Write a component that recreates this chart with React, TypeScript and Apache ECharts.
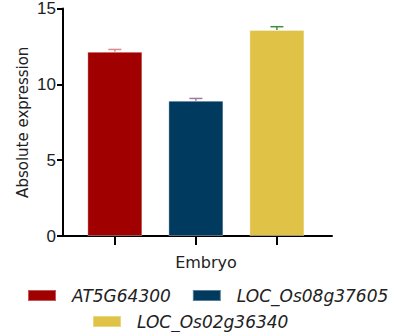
import React, { useEffect, useRef } from "react";
import * as echarts from "echarts";

const seriesNames = ["AT5G64300", "LOC_Os08g37605", "LOC_Os02g36340"];
const positions = [0, 1, 2];
const means = [12.15, 8.92, 13.58];
const errors = [0.15, 0.15, 0.22];
const barColors = ["#a00000", "#003a5e", "#dfc246"];
const errorColors = ["#d98a8c", "#a07aa4", "#3f8f3f"];
const groupLabel = "Embryo";
const yTitle = "Absolute expression";

export default function App() {
  const ref = useRef<HTMLDivElement>(null);
  useEffect(() => {
    if (!ref.current) return;
    const chart = echarts.init(ref.current, undefined, { renderer: "svg" });
    const font = "DejaVu Sans";
    const barSeries = seriesNames.map((name, i) => ({
      name,
      type: "bar",
      data: [[positions[i], means[i]]],
      barWidth: 55,
      barGap: "-100%",
      itemStyle: {
        color: barColors[i],
        borderColor: "rgba(255,255,255,0.35)",
        borderWidth: 1,
      },
      z: 2,
    }));
    const errSeries = {
      type: "custom",
      z: 3,
      silent: true,
      data: positions.map((p, i) => [p, means[i], errors[i], i]),
      renderItem: (params: any, api: any) => {
        const x = api.value(0);
        const m = api.value(1);
        const e = api.value(2);
        const idx = api.value(3);
        const base = api.coord([x, m]);
        const top = api.coord([x, m + e]);
        const color = errorColors[idx];
        const hw = 6.5;
        return {
          type: "group",
          children: [
            {
              type: "line",
              shape: { x1: base[0], y1: base[1], x2: top[0], y2: top[1] },
              style: { stroke: color, lineWidth: 1.5 },
            },
            {
              type: "line",
              shape: { x1: top[0] - hw, y1: top[1], x2: top[0] + hw, y2: top[1] },
              style: { stroke: color, lineWidth: 1.5 },
            },
          ],
        };
      },
    };
    const legendCommon = {
      orient: "horizontal",
      width: 600,
      padding: 0,
      itemWidth: 28,
      itemHeight: 11,
      itemGap: 21,
      icon: "rect",
      textStyle: {
        fontFamily: font,
        fontStyle: "italic",
        fontSize: 17,
        color: "#222",
        padding: [0, 0, 0, 11],
      },
    };
    chart.setOption({
      animation: false,
      grid: { left: 63, right: 63, top: 5, bottom: 96, containLabel: false },
      legend: [
        { ...legendCommon, left: 27, top: 287, data: [seriesNames[0], seriesNames[1]] },
        { ...legendCommon, left: 92, top: 313, data: [seriesNames[2]] },
      ],
      xAxis: {
        type: "value",
        min: -0.64,
        max: 2.68,
        name: groupLabel,
        nameLocation: "middle",
        nameGap: 18,
        nameMoveOverlap: false,
        nameTextStyle: {
          fontFamily: font,
          fontSize: 16,
          color: "#222",
          padding: [0, 0, 0, 17],
        },
        splitLine: { show: false },
        axisLine: { show: true, onZero: false, lineStyle: { color: "#000", width: 2 } },
        axisTick: {
          show: true,
          customValues: positions,
          length: 9,
          lineStyle: { color: "#000", width: 2 },
        },
        axisLabel: { show: false },
      },
      yAxis: {
        type: "value",
        min: 0,
        max: 15,
        interval: 5,
        name: yTitle,
        nameLocation: "middle",
        nameGap: 33,
        nameMoveOverlap: false,
        nameTextStyle: { fontFamily: font, fontSize: 15, color: "#222" },
        splitLine: { show: false },
        axisLine: { show: true, onZero: false, lineStyle: { color: "#000", width: 2 } },
        axisTick: { show: true, length: 6, lineStyle: { color: "#000", width: 2 } },
        axisLabel: {
          margin: 7,
          fontFamily: "'Liberation Sans'",
          fontSize: 17,
          color: "#222",
        },
      },
      series: [...barSeries, errSeries],
    });
    return () => chart.dispose();
  }, []);
  return <div ref={ref} style={{ width: 395, height: 332, position: "absolute", left: 0, top: 0 }} />;
}
